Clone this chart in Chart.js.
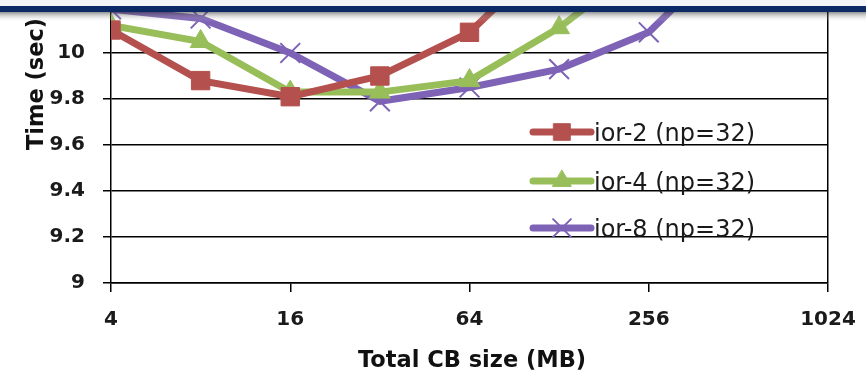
<!DOCTYPE html>
<html>
<head>
<meta charset="utf-8">
<script src="https://cdn.jsdelivr.net/npm/chart.js@4.4.1/dist/chart.umd.min.js"></script>
<style>
  html, body { margin: 0; padding: 0; background: #fff; }
  canvas { display: block; }
</style>
</head>
<body>
<canvas id="chart" width="866" height="376"></canvas>
<script>
// Total CB size (MB), log2 spaced
const sizesMB = [4, 8, 16, 32, 64, 128, 256, 512];
const xTicks = [4, 16, 64, 256, 1024];
const yTicks = [9, 9.2, 9.4, 9.6, 9.8, 10, 10.2];

// Time (sec) per series (last points run off the top)
const seriesNames = ["ior-2 (np=32)", "ior-4 (np=32)", "ior-8 (np=32)"];
const ior2 = [10.10, 9.88, 9.81, 9.90, 10.09, 10.46];
const ior4 = [10.12, 10.05, 9.83, 9.83, 9.88, 10.11, 10.41];
const ior8 = [10.19, 10.15, 10.00, 9.79, 9.85, 9.93, 10.09, 10.47];

const colors = ["#B4504D", "#98BE5A", "#7D62B6"];
const tickFont = { family: "DejaVu Sans", size: 20, weight: "bold" };

function toPoints(values) {
    return values.map((v, i) => ({ x: sizesMB[i], y: v }));
}

// Legend, axis titles and the slide header bar drawn over the chart
const overlayPlugin = {
    id: "overlay",
    afterDatasetsDraw(chart) {
        const ctx = chart.ctx;
        const legendYs = [132, 181, 228];
        ctx.save();
        chart.data.datasets.forEach((ds, i) => {
            const y = legendYs[i];
            ctx.strokeStyle = ds.borderColor;
            ctx.lineWidth = ds.borderWidth;
            ctx.lineCap = "round";
            ctx.beginPath();
            ctx.moveTo(533, y);
            ctx.lineTo(591, y);
            ctx.stroke();
            ctx.fillStyle = ds.backgroundColor;
            ctx.strokeStyle = ds.borderColor;
            ctx.lineWidth = ds.pointBorderWidth;
            Chart.helpers.drawPoint(ctx, {
                pointStyle: ds.pointStyle,
                radius: ds.pointRadius * 0.9,
                borderWidth: ds.pointBorderWidth,
                rotation: 0
            }, 562, y);
            ctx.fillStyle = "#1a1a1a";
            ctx.font = "24px 'DejaVu Sans'";
            ctx.textAlign = "left";
            ctx.textBaseline = "alphabetic";
            ctx.fillText(ds.label, 594, y + 9);
        });
        ctx.restore();
    },
    afterDraw(chart) {
        const ctx = chart.ctx;
        ctx.save();
        ctx.fillStyle = "#111";
        ctx.font = "bold 22.5px 'DejaVu Sans'";
        ctx.textAlign = "center";
        ctx.textBaseline = "alphabetic";
        ctx.fillText("Total CB size (MB)", 472, 367);

        ctx.translate(43, 84);
        ctx.rotate(-Math.PI / 2);
        ctx.fillText("Time (sec)", 0, 0);
        ctx.restore();

        // header bar of the slide
        ctx.save();
        ctx.fillStyle = "#f3f5f9";
        ctx.fillRect(0, 0, 866, 6);
        ctx.fillStyle = "#0c2a66";
        ctx.fillRect(0, 6, 866, 6);
        const grad = ctx.createLinearGradient(0, 12, 0, 22);
        grad.addColorStop(0, "rgba(40,40,40,0.5)");
        grad.addColorStop(1, "rgba(255,255,255,0)");
        ctx.fillStyle = grad;
        ctx.fillRect(0, 12, 866, 10);
        ctx.restore();
    }
};

new Chart(document.getElementById("chart"), {
    type: "line",
    data: {
        datasets: [
            {
                label: seriesNames[0], data: toPoints(ior2),
                borderColor: colors[0], backgroundColor: colors[0],
                borderWidth: 7, pointStyle: "rect", pointRadius: 13, pointBorderWidth: 1
            },
            {
                label: seriesNames[1], data: toPoints(ior4),
                borderColor: colors[1], backgroundColor: colors[1],
                borderWidth: 7, pointStyle: "triangle", pointRadius: 12, pointBorderWidth: 1
            },
            {
                label: seriesNames[2], data: toPoints(ior8),
                borderColor: colors[2], backgroundColor: colors[2],
                borderWidth: 7, pointStyle: "crossRot", pointRadius: 14, pointBorderWidth: 2
            }
        ]
    },
    options: {
        responsive: false,
        animation: false,
        devicePixelRatio: 1,
        // point overflow would push the plot down; the plot box is set by hand
        layout: { autoPadding: false, padding: { top: 7, right: 38, bottom: 0, left: 0 } },
        elements: { line: { tension: 0 } },
        plugins: { legend: { display: false }, tooltip: { enabled: false } },
        scales: {
            x: {
                type: "logarithmic",
                min: 4,
                max: 1024,
                afterBuildTicks: (s) => { s.ticks = xTicks.map((v) => ({ value: v })); },
                afterFit: (s) => { s.height = 93; s.paddingLeft = 0; s.paddingRight = 0; },
                ticks: {
                    callback: (v) => String(v),
                    autoSkip: false, maxRotation: 0,
                    font: tickFont, color: "#1a1a1a", padding: 16
                },
                grid: {
                    color: (c) => (c.tick && c.tick.value === 1024 ? "#000" : "rgba(0,0,0,0)"),
                    tickColor: "#000", lineWidth: 1.5, tickLength: 9
                },
                border: { display: true, color: "#000", width: 1.5 }
            },
            y: {
                min: 9,
                max: 10.2,
                afterBuildTicks: (s) => { s.ticks = yTicks.map((v) => ({ value: v })); },
                afterFit: (s) => { s.width = 111; s.paddingTop = 0; s.paddingBottom = 0; },
                ticks: {
                    callback: (v) => String(Math.round(v * 10) / 10),
                    font: tickFont, color: "#1a1a1a", padding: 18
                },
                grid: { color: "#000", lineWidth: 1.5, tickLength: 8 },
                border: { display: true, color: "#000", width: 1.5 }
            }
        }
    },
    plugins: [overlayPlugin]
});
</script>
</body>
</html>
